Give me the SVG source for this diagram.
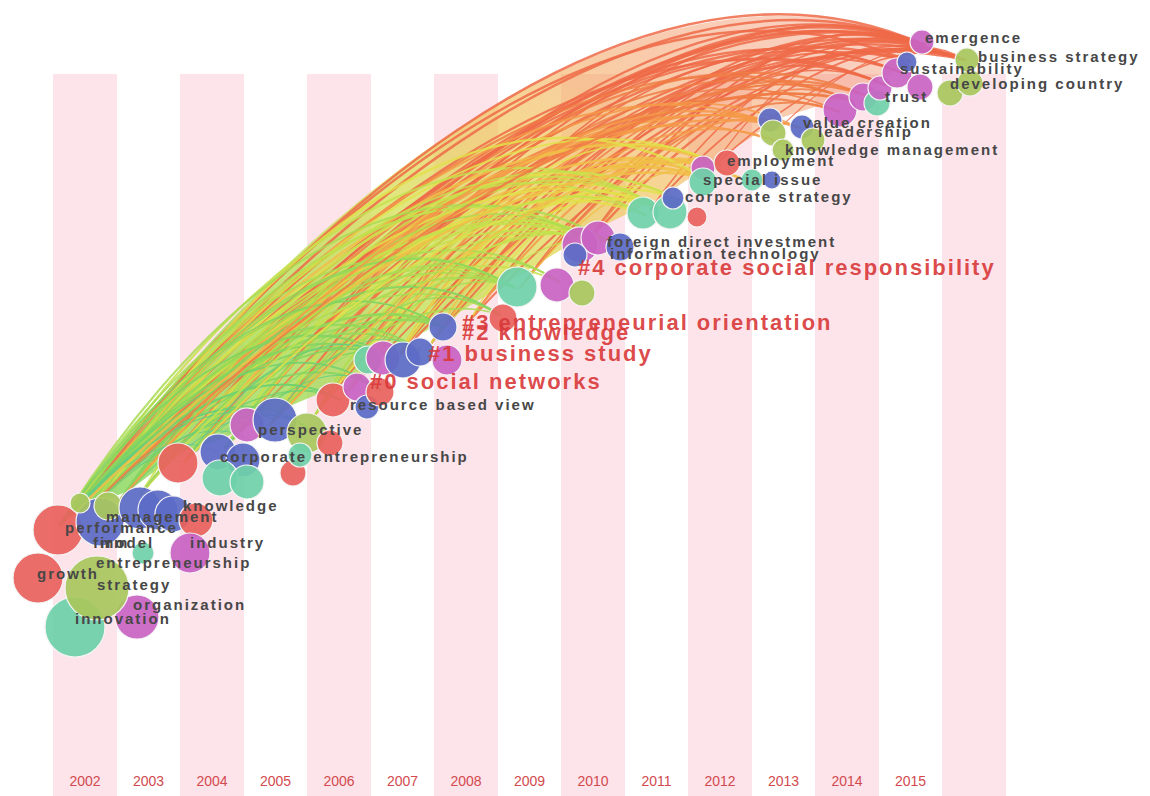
<svg xmlns="http://www.w3.org/2000/svg" xmlns:xlink="http://www.w3.org/1999/xlink" width="1150" height="796" viewBox="0 0 1150 796">
<style>
.stripe{fill:#fde3ea}
.yr{font-family:"Liberation Sans",Arial,sans-serif;font-size:14px;fill:#d24a4e;text-anchor:middle}
.lk{fill:none;stroke-opacity:.85;stroke-linecap:round}
.c15{stroke:#ee6a48}.c14{stroke:#f07c45}.c13{stroke:#f49a48}.c12{stroke:#f0c048}.c11{stroke:#e2e04a}
.c10{stroke:#c4e04e}.c9{stroke:#a8dc52}.c8{stroke:#92d85a}.c7{stroke:#80d462}.c6{stroke:#6fd070}.c5{stroke:#64cc84}.c4{stroke:#5cc896}
.L{stroke-width:.0026}.M{stroke-width:.0036}.S{stroke-width:.0055}
circle{stroke:#f4f4f4;stroke-width:1.2;fill-opacity:.93}
.r{fill:#e8625e}.b{fill:#5d6cc6}.t{fill:#6fd1a9}.p{fill:#c963c3}.o{fill:#a9c75e}
.lb{font-family:"Liberation Sans",Arial,sans-serif;font-size:15px;font-weight:bold;fill:#474747;letter-spacing:2px}
.cl{font-family:"Liberation Sans",Arial,sans-serif;font-size:22px;font-weight:bold;fill:#d93a3a;fill-opacity:.92;letter-spacing:2px}
</style>
<defs>
<path id="A" fill="none" d="M0,0C.3,-.126 .79,-.257 1,0"/>
<path id="B" fill="none" d="M0,0C.3,-.107 .79,-.218 1,0"/>
<path id="C" fill="none" d="M0,0C.3,-.088 .79,-.18 1,0"/>
<path id="D" fill="none" d="M0,0C.3,-.141 .79,-.288 1,0"/>
<path id="E" fill="none" d="M0,0C.3,-.17 .79,-.347 1,0"/>
<path id="F" fill="none" d="M0,0C.3,-.137 .79,-.276 1,0"/>
<linearGradient id="band" x1="0" y1="1" x2="1" y2="0">
<stop offset="0" stop-color="#86d862" stop-opacity=".85"/>
<stop offset=".3" stop-color="#a8dc58" stop-opacity=".8"/>
<stop offset=".5" stop-color="#d4e050" stop-opacity=".75"/>
<stop offset=".65" stop-color="#f0c04c" stop-opacity=".62"/>
<stop offset=".8" stop-color="#f28c48" stop-opacity=".45"/>
<stop offset="1" stop-color="#ee6a48" stop-opacity=".28"/>
</linearGradient>
</defs>
<rect width="1150" height="796" fill="#ffffff"/>
<g id="stripes">
<rect class="stripe" x="53" y="74" width="64" height="722"/>
<rect class="stripe" x="180" y="74" width="64" height="722"/>
<rect class="stripe" x="307" y="74" width="64" height="722"/>
<rect class="stripe" x="434" y="74" width="64" height="722"/>
<rect class="stripe" x="561" y="74" width="64" height="722"/>
<rect class="stripe" x="688" y="74" width="64" height="722"/>
<rect class="stripe" x="815" y="74" width="64" height="722"/>
<rect class="stripe" x="942" y="74" width="64" height="722"/>
</g>
<g id="years">
<text class="yr" x="85" y="786">2002</text>
<text class="yr" x="148.5" y="786">2003</text>
<text class="yr" x="212" y="786">2004</text>
<text class="yr" x="275.5" y="786">2005</text>
<text class="yr" x="339" y="786">2006</text>
<text class="yr" x="402.5" y="786">2007</text>
<text class="yr" x="466" y="786">2008</text>
<text class="yr" x="529.5" y="786">2009</text>
<text class="yr" x="593" y="786">2010</text>
<text class="yr" x="656.5" y="786">2011</text>
<text class="yr" x="720" y="786">2012</text>
<text class="yr" x="783.5" y="786">2013</text>
<text class="yr" x="847" y="786">2014</text>
<text class="yr" x="910.5" y="786">2015</text>
</g>
<g id="connectors">
<path d="M72,515C258,245 625,-85 925,45L900,68L850,96L780,118L720,158L660,198L590,232L520,275L450,318L400,345L340,385L280,410L220,440L180,452L130,490Z" fill="url(#band)"/>
<use href="#F" class="lk c15 L" transform="matrix(853,-470,470,853,72,515)"/>
<use href="#A" class="lk c15 L" transform="matrix(853,-470,470,853,72,515)"/>
<use href="#B" class="lk c15 L" transform="matrix(830,-460,460,830,95,505)"/>
<use href="#F" class="lk c15 L" transform="matrix(850,-463,463,850,60,525)"/>
<use href="#B" class="lk c15 L" transform="matrix(850,-463,463,850,60,525)"/>
<use href="#A" class="lk c15 L" transform="matrix(780,-428,428,780,120,500)"/>
<use href="#C" class="lk c15 L" transform="matrix(880,-452,452,880,85,512)"/>
<use href="#A" class="lk c15 L" transform="matrix(805,-440,440,805,140,495)"/>
<use href="#A" class="lk c15 L" transform="matrix(740,-417,417,740,185,462)"/>
<use href="#D" class="lk c15 L" transform="matrix(660,-363,363,660,225,448)"/>
<use href="#B" class="lk c15 L" transform="matrix(640,-363,363,640,270,425)"/>
<use href="#A" class="lk c15 L" transform="matrix(650,-355,355,650,315,415)"/>
<use href="#D" class="lk c15 L" transform="matrix(580,-350,350,580,345,395)"/>
<use href="#A" class="lk c15 M" transform="matrix(505,-288,288,505,395,360)"/>
<use href="#D" class="lk c15 M" transform="matrix(515,-290,290,515,430,345)"/>
<use href="#A" class="lk c15 M" transform="matrix(455,-275,275,455,470,320)"/>
<use href="#D" class="lk c15 M" transform="matrix(365,-203,203,365,520,288)"/>
<use href="#A" class="lk c15 L" transform="matrix(813,-430,430,813,72,515)"/>
<use href="#C" class="lk c15 L" transform="matrix(865,-480,480,865,60,525)"/>
<use href="#A" class="lk c15 L" transform="matrix(700,-403,403,700,225,448)"/>
<use href="#D" class="lk c15 L" transform="matrix(585,-343,343,585,315,415)"/>
<use href="#B" class="lk c15 M" transform="matrix(570,-300,300,570,395,360)"/>
<use href="#D" class="lk c15 S" transform="matrix(340,-200,200,340,585,245)"/>
<use href="#A" class="lk c15 S" transform="matrix(380,-185,185,380,585,245)"/>
<use href="#D" class="lk c15 S" transform="matrix(260,-148,148,260,650,210)"/>
<use href="#B" class="lk c15 M" transform="matrix(495,-260,260,495,470,320)"/>
<use href="#B" class="lk c15 L" transform="matrix(805,-455,455,805,120,500)"/>
<use href="#B" class="lk c15 L" transform="matrix(780,-402,402,780,185,462)"/>
<use href="#D" class="lk c15 L" transform="matrix(675,-370,370,675,270,425)"/>
<use href="#B" class="lk c15 L" transform="matrix(620,-335,335,620,345,395)"/>
<use href="#B" class="lk c15 M" transform="matrix(495,-300,300,495,430,345)"/>
<use href="#A" class="lk c15 M" transform="matrix(425,-233,233,425,520,288)"/>
<use href="#D" class="lk c15 M" transform="matrix(490,-275,275,490,395,360)"/>
<use href="#A" class="lk c15 S" transform="matrix(315,-150,150,315,650,210)"/>
<use href="#D" class="lk c15 S" transform="matrix(215,-125,125,215,710,170)"/>
<use href="#D" class="lk c15 S" transform="matrix(185,-68,68,185,780,128)"/>
<use href="#B" class="lk c15 S" transform="matrix(255,-110,110,255,710,170)"/>
<use href="#C" class="lk c15 L" transform="matrix(655,-380,380,655,270,425)"/>
<use href="#A" class="lk c14 L" transform="matrix(778,-415,415,778,72,515)"/>
<use href="#B" class="lk c14 L" transform="matrix(745,-393,393,745,95,505)"/>
<use href="#A" class="lk c14 L" transform="matrix(745,-405,405,745,120,500)"/>
<use href="#A" class="lk c14 L" transform="matrix(665,-362,362,665,185,462)"/>
<use href="#D" class="lk c14 L" transform="matrix(570,-313,313,570,270,425)"/>
<use href="#A" class="lk c14 M" transform="matrix(520,-300,300,520,345,395)"/>
<use href="#D" class="lk c14 M" transform="matrix(420,-245,245,420,430,345)"/>
<use href="#A" class="lk c14 S" transform="matrix(320,-176,176,320,520,288)"/>
<use href="#C" class="lk c14 L" transform="matrix(790,-425,425,790,60,525)"/>
<use href="#B" class="lk c14 L" transform="matrix(640,-353,353,640,225,448)"/>
<use href="#D" class="lk c14 S" transform="matrix(265,-145,145,265,585,245)"/>
<use href="#A" class="lk c13 L" transform="matrix(703,-390,390,703,72,515)"/>
<use href="#B" class="lk c13 L" transform="matrix(705,-377,377,705,95,505)"/>
<use href="#A" class="lk c13 L" transform="matrix(645,-350,350,645,140,495)"/>
<use href="#D" class="lk c13 L" transform="matrix(615,-334,334,615,185,462)"/>
<use href="#A" class="lk c13 M" transform="matrix(460,-290,290,460,315,415)"/>
<use href="#D" class="lk c13 M" transform="matrix(390,-215,215,390,395,360)"/>
<use href="#A" class="lk c13 S" transform="matrix(330,-192,192,330,470,320)"/>
<use href="#C" class="lk c13 L" transform="matrix(715,-400,400,715,60,525)"/>
<use href="#A" class="lk c13 M" transform="matrix(550,-323,323,550,225,448)"/>
<use href="#A" class="lk c12 M" transform="matrix(648,-350,350,648,72,515)"/>
<use href="#B" class="lk c12 M" transform="matrix(610,-327,327,610,95,505)"/>
<use href="#A" class="lk c12 M" transform="matrix(620,-322,322,620,120,500)"/>
<use href="#D" class="lk c12 M" transform="matrix(535,-297,297,535,185,462)"/>
<use href="#A" class="lk c12 M" transform="matrix(435,-247,247,435,270,425)"/>
<use href="#D" class="lk c12 M" transform="matrix(395,-217,217,395,345,395)"/>
<use href="#A" class="lk c12 S" transform="matrix(290,-180,180,290,430,345)"/>
<use href="#C" class="lk c12 M" transform="matrix(635,-347,347,635,85,512)"/>
<use href="#D" class="lk c12 S" transform="matrix(220,-110,110,220,520,288)"/>
<use href="#A" class="lk c11 M" transform="matrix(588,-307,307,588,72,515)"/>
<use href="#D" class="lk c11 M" transform="matrix(580,-307,307,580,95,505)"/>
<use href="#A" class="lk c11 M" transform="matrix(505,-280,280,505,140,495)"/>
<use href="#D" class="lk c11 M" transform="matrix(435,-240,240,435,225,448)"/>
<use href="#A" class="lk c11 S" transform="matrix(360,-217,217,360,315,415)"/>
<use href="#D" class="lk c11 S" transform="matrix(265,-152,152,265,395,360)"/>
<use href="#B" class="lk c11 M" transform="matrix(600,-317,317,600,60,525)"/>
<use href="#E" class="lk c12 S" transform="matrix(275,-167,167,275,430,345)"/>
<use href="#E" class="lk c12 S" transform="matrix(310,-182,182,310,395,360)"/>
<use href="#E" class="lk c11 M" transform="matrix(375,-230,230,375,345,395)"/>
<use href="#E" class="lk c11 S" transform="matrix(205,-122,122,205,470,320)"/>
<use href="#E" class="lk c11 S" transform="matrix(265,-152,152,265,395,360)"/>
<use href="#A" class="lk c10 M" transform="matrix(518,-275,275,518,72,515)"/>
<use href="#D" class="lk c10 M" transform="matrix(520,-260,260,520,95,505)"/>
<use href="#A" class="lk c10 M" transform="matrix(440,-218,218,440,120,500)"/>
<use href="#D" class="lk c10 M" transform="matrix(405,-222,222,405,185,462)"/>
<use href="#A" class="lk c10 S" transform="matrix(345,-180,180,345,270,425)"/>
<use href="#D" class="lk c10 S" transform="matrix(245,-155,155,245,345,395)"/>
<use href="#B" class="lk c10 M" transform="matrix(530,-285,285,530,60,525)"/>
<use href="#A" class="lk c10 S" transform="matrix(185,-100,100,185,430,345)"/>
<use href="#D" class="lk c11 L" transform="matrix(635,-347,347,635,85,512)"/>
<use href="#D" class="lk c10 L" transform="matrix(615,-327,327,615,60,525)"/>
<use href="#E" class="lk c11 M" transform="matrix(610,-327,327,610,95,505)"/>
<use href="#E" class="lk c10 M" transform="matrix(588,-307,307,588,72,515)"/>
<use href="#E" class="lk c10 M" transform="matrix(505,-280,280,505,140,495)"/>
<use href="#E" class="lk c9 M" transform="matrix(543,-270,270,543,72,515)"/>
<use href="#E" class="lk c9 M" transform="matrix(530,-285,285,530,60,525)"/>
<use href="#E" class="lk c10 M" transform="matrix(475,-254,254,475,185,462)"/>
<use href="#E" class="lk c11 M" transform="matrix(390,-217,217,390,270,425)"/>
<use href="#E" class="lk c10 M" transform="matrix(365,-208,208,365,225,448)"/>
<use href="#E" class="lk c10 M" transform="matrix(435,-240,240,435,225,448)"/>
<use href="#E" class="lk c10 S" transform="matrix(320,-185,185,320,270,425)"/>
<use href="#E" class="lk c10 S" transform="matrix(330,-200,200,330,315,415)"/>
<use href="#E" class="lk c10 S" transform="matrix(245,-155,155,245,345,395)"/>
<use href="#A" class="lk c9 M" transform="matrix(443,-227,227,443,72,515)"/>
<use href="#D" class="lk c9 M" transform="matrix(405,-190,190,405,95,505)"/>
<use href="#A" class="lk c9 S" transform="matrix(330,-174,174,330,185,462)"/>
<use href="#D" class="lk c9 S" transform="matrix(200,-127,127,200,315,415)"/>
<use href="#D" class="lk c9 M" transform="matrix(430,-224,224,430,85,512)"/>
<use href="#B" class="lk c9 S" transform="matrix(275,-133,133,275,225,448)"/>
<use href="#E" class="lk c9 M" transform="matrix(455,-237,237,455,60,525)"/>
<use href="#E" class="lk c9 M" transform="matrix(440,-218,218,440,120,500)"/>
<use href="#E" class="lk c10 M" transform="matrix(495,-265,265,495,95,505)"/>
<use href="#E" class="lk c9 M" transform="matrix(405,-222,222,405,185,462)"/>
<use href="#E" class="lk c9 S" transform="matrix(330,-174,174,330,185,462)"/>
<use href="#E" class="lk c9 S" transform="matrix(335,-166,166,335,225,448)"/>
<use href="#E" class="lk c9 S" transform="matrix(200,-127,127,200,315,415)"/>
<use href="#A" class="lk c8 M" transform="matrix(373,-187,187,373,72,515)"/>
<use href="#D" class="lk c8 S" transform="matrix(325,-155,155,325,95,505)"/>
<use href="#D" class="lk c8 S" transform="matrix(325,-172,172,325,120,500)"/>
<use href="#A" class="lk c8 S" transform="matrix(260,-134,134,260,185,462)"/>
<use href="#B" class="lk c8 M" transform="matrix(385,-197,197,385,60,525)"/>
<use href="#D" class="lk c8 S" transform="matrix(150,-75,75,150,270,425)"/>
<use href="#E" class="lk c8 M" transform="matrix(373,-187,187,373,72,515)"/>
<use href="#E" class="lk c8 S" transform="matrix(335,-162,162,335,85,512)"/>
<use href="#E" class="lk c8 M" transform="matrix(430,-224,224,430,85,512)"/>
<use href="#E" class="lk c8 M" transform="matrix(420,-217,217,420,95,505)"/>
<use href="#E" class="lk c8 S" transform="matrix(230,-110,110,230,270,425)"/>
<use href="#E" class="lk c8 S" transform="matrix(220,-120,120,220,225,448)"/>
<use href="#A" class="lk c7 S" transform="matrix(323,-155,155,323,72,515)"/>
<use href="#D" class="lk c7 S" transform="matrix(285,-115,115,285,95,505)"/>
<use href="#D" class="lk c7 S" transform="matrix(255,-135,135,255,140,495)"/>
<use href="#D" class="lk c7 S" transform="matrix(170,-88,88,170,225,448)"/>
<use href="#D" class="lk c7 S" transform="matrix(335,-165,165,335,60,525)"/>
<use href="#E" class="lk c7 S" transform="matrix(335,-165,165,335,60,525)"/>
<use href="#E" class="lk c7 M" transform="matrix(385,-197,197,385,60,525)"/>
<use href="#E" class="lk c7 S" transform="matrix(380,-185,185,380,120,500)"/>
<use href="#D" class="lk c6 S" transform="matrix(268,-115,115,268,72,515)"/>
<use href="#D" class="lk c6 S" transform="matrix(215,-75,75,215,95,505)"/>
<use href="#A" class="lk c6 S" transform="matrix(220,-100,100,220,120,500)"/>
<use href="#D" class="lk c6 S" transform="matrix(280,-125,125,280,60,525)"/>
<use href="#D" class="lk c6 S" transform="matrix(155,-62,62,155,185,462)"/>
<use href="#E" class="lk c6 S" transform="matrix(238,-85,85,238,72,515)"/>
<use href="#E" class="lk c6 S" transform="matrix(308,-125,125,308,72,515)"/>
<use href="#E" class="lk c5 S" transform="matrix(210,-102,102,210,185,462)"/>
<use href="#E" class="lk c5 S" transform="matrix(155,-58,58,155,225,448)"/>
<use href="#E" class="lk c5 S" transform="matrix(150,-75,75,150,270,425)"/>
<use href="#D" class="lk c5 S" transform="matrix(203,-95,95,203,72,515)"/>
<use href="#D" class="lk c5 S" transform="matrix(155,-65,65,155,95,505)"/>
<use href="#A" class="lk c5 S" transform="matrix(215,-105,105,215,60,525)"/>
<use href="#E" class="lk c4 S" transform="matrix(170,-65,65,170,140,495)"/>
<use href="#E" class="lk c4 S" transform="matrix(125,-32,32,125,185,462)"/>
<use href="#D" class="lk c4 S" transform="matrix(143,-63,63,143,72,515)"/>
<use href="#D" class="lk c4 S" transform="matrix(85,-43,43,85,95,505)"/>
<use href="#B" class="lk c13 L" transform="matrix(655,-375,375,655,120,500)"/>
<use href="#C" class="lk c12 M" transform="matrix(633,-337,337,633,72,515)"/>
<use href="#B" class="lk c11 M" transform="matrix(475,-254,254,475,185,462)"/>
<use href="#C" class="lk c14 L" transform="matrix(765,-412,412,765,85,512)"/>
<use href="#C" class="lk c12 M" transform="matrix(450,-260,260,450,270,425)"/>
<use href="#B" class="lk c10 M" transform="matrix(450,-255,255,450,140,495)"/>
</g>
<g id="nodes">
<g id="n1"><circle class="t" cx="75" cy="627" r="30"/></g>
<g id="n2"><circle class="p" cx="137" cy="617" r="22"/></g>
<g id="n3"><circle class="o" cx="97" cy="588" r="32"/></g>
<g id="n4"><circle class="r" cx="38" cy="578" r="25"/></g>
<g id="n5"><circle class="r" cx="58" cy="530" r="25"/></g>
<g id="n6"><circle class="b" cx="100" cy="522" r="24"/></g>
<g id="n7"><circle class="o" cx="108" cy="506" r="14"/></g>
<g id="n8"><circle class="b" cx="140" cy="508" r="21"/></g>
<g id="n9"><circle class="b" cx="158" cy="510" r="20"/></g>
<g id="n10"><circle class="b" cx="173" cy="514" r="18"/></g>
<g id="n11"><circle class="r" cx="196" cy="520" r="17"/></g>
<g id="n12"><circle class="p" cx="190" cy="553" r="20"/></g>
<g id="n13"><circle class="t" cx="143" cy="553" r="11"/></g>
<g id="n14"><circle class="o" cx="80" cy="503" r="10"/></g>
<g id="n15"><circle class="r" cx="178" cy="463" r="20"/></g>
<g id="n16"><circle class="b" cx="218" cy="452" r="18"/></g>
<g id="n17"><circle class="b" cx="243" cy="460" r="17"/></g>
<g id="n18"><circle class="t" cx="220" cy="478" r="18"/></g>
<g id="n19"><circle class="t" cx="247" cy="482" r="17"/></g>
<g id="n20"><circle class="r" cx="293" cy="473" r="13"/></g>
<g id="n21"><circle class="p" cx="247" cy="425" r="17"/></g>
<g id="n22"><circle class="b" cx="275" cy="420" r="22"/></g>
<g id="n23"><circle class="o" cx="307" cy="433" r="20"/></g>
<g id="n24"><circle class="t" cx="300" cy="455" r="12"/></g>
<g id="n25"><circle class="r" cx="330" cy="443" r="13"/></g>
<g id="n26"><circle class="r" cx="333" cy="400" r="17"/></g>
<g id="n27"><circle class="p" cx="357" cy="387" r="14"/></g>
<g id="n28"><circle class="b" cx="367" cy="407" r="12"/></g>
<g id="n29"><circle class="r" cx="380" cy="392" r="14"/></g>
<g id="n30"><circle class="t" cx="368" cy="360" r="14"/></g>
<g id="n31"><circle class="p" cx="383" cy="358" r="17"/></g>
<g id="n32"><circle class="b" cx="403" cy="360" r="18"/></g>
<g id="n33"><circle class="b" cx="420" cy="352" r="14"/></g>
<g id="n34"><circle class="p" cx="447" cy="360" r="15"/></g>
<g id="n35"><circle class="b" cx="443" cy="327" r="14"/></g>
<g id="n36"><circle class="r" cx="503" cy="318" r="14"/></g>
<g id="n37"><circle class="t" cx="517" cy="287" r="20"/></g>
<g id="n38"><circle class="p" cx="557" cy="285" r="17"/></g>
<g id="n39"><circle class="o" cx="582" cy="293" r="13"/></g>
<g id="n40"><circle class="p" cx="580" cy="245" r="18"/></g>
<g id="n41"><circle class="p" cx="598" cy="238" r="17"/></g>
<g id="n42"><circle class="b" cx="575" cy="255" r="12"/></g>
<g id="n43"><circle class="b" cx="620" cy="247" r="14"/></g>
<g id="n44"><circle class="t" cx="643" cy="213" r="16"/></g>
<g id="n45"><circle class="t" cx="670" cy="212" r="17"/></g>
<g id="n46"><circle class="r" cx="697" cy="217" r="10"/></g>
<g id="n47"><circle class="b" cx="673" cy="198" r="11"/></g>
<g id="n48"><circle class="p" cx="703" cy="168" r="12"/></g>
<g id="n49"><circle class="t" cx="703" cy="182" r="14"/></g>
<g id="n50"><circle class="r" cx="727" cy="163" r="13"/></g>
<g id="n51"><circle class="t" cx="752" cy="180" r="11"/></g>
<g id="n52"><circle class="b" cx="772" cy="180" r="9"/></g>
<g id="n53"><circle class="b" cx="770" cy="120" r="12"/></g>
<g id="n54"><circle class="o" cx="773" cy="133" r="13"/></g>
<g id="n55"><circle class="b" cx="802" cy="127" r="12"/></g>
<g id="n56"><circle class="o" cx="813" cy="140" r="12"/></g>
<g id="n57"><circle class="o" cx="783" cy="150" r="11"/></g>
<g id="n58"><circle class="p" cx="840" cy="110" r="17"/></g>
<g id="n59"><circle class="p" cx="863" cy="97" r="14"/></g>
<g id="n60"><circle class="t" cx="877" cy="103" r="13"/></g>
<g id="n61"><circle class="p" cx="880" cy="88" r="12"/></g>
<g id="n62"><circle class="p" cx="897" cy="73" r="15"/></g>
<g id="n63"><circle class="b" cx="907" cy="62" r="10"/></g>
<g id="n64"><circle class="p" cx="920" cy="87" r="13"/></g>
<g id="n65"><circle class="p" cx="922" cy="42" r="12"/></g>
<g id="n66"><circle class="o" cx="950" cy="93" r="13"/></g>
<g id="n67"><circle class="o" cx="970" cy="83" r="13"/></g>
<g id="n68"><circle class="o" cx="967" cy="60" r="12"/></g>
</g>
<g id="labels">
<text id="l-emergence" class="lb" x="925" y="43">emergence</text>
<text id="l-business-strategy" class="lb" x="978" y="62">business strategy</text>
<text id="l-sustainability" class="lb" x="900" y="74">sustainability</text>
<text id="l-developing-country" class="lb" x="950" y="89">developing country</text>
<text id="l-trust" class="lb" x="885" y="102">trust</text>
<text id="l-value-creation" class="lb" x="803" y="128">value creation</text>
<text id="l-leadership" class="lb" x="818" y="137">leadership</text>
<text id="l-knowledge-management" class="lb" x="785" y="155">knowledge management</text>
<text id="l-employment" class="lb" x="727" y="166">employment</text>
<text id="l-special-issue" class="lb" x="703" y="185">special issue</text>
<text id="l-corporate-strategy" class="lb" x="685" y="202">corporate strategy</text>
<text id="l-fdi" class="lb" x="607" y="247">foreign direct investment</text>
<text id="l-it" class="lb" x="610" y="259">information technology</text>
<text id="l-rbv" class="lb" x="350" y="410">resource based view</text>
<text id="l-perspective" class="lb" x="258" y="435">perspective</text>
<text id="l-ce" class="lb" x="220" y="462">corporate entrepreneurship</text>
<text id="l-knowledge" class="lb" x="183" y="511">knowledge</text>
<text id="l-management" class="lb" x="106" y="522">management</text>
<text id="l-performance" class="lb" x="65" y="533">performance</text>
<text id="l-firm" class="lb" x="93" y="548">firm</text>
<text id="l-model" class="lb" x="100" y="548">model</text>
<text id="l-industry" class="lb" x="190" y="548">industry</text>
<text id="l-entrepreneurship" class="lb" x="96" y="568">entrepreneurship</text>
<text id="l-growth" class="lb" x="37" y="579">growth</text>
<text id="l-strategy" class="lb" x="97" y="590">strategy</text>
<text id="l-organization" class="lb" x="133" y="610">organization</text>
<text id="l-innovation" class="lb" x="75" y="624">innovation</text>
<text id="c3" class="cl" x="462" y="330">#3 entrepreneurial orientation</text>
<text id="c2" class="cl" x="462" y="340">#2 knowledge</text>
<text id="c1" class="cl" x="428" y="361">#1 business study</text>
<text id="c0" class="cl" x="370" y="389">#0 social networks</text>
<text id="c4" class="cl" x="578" y="275">#4 corporate social responsibility</text>
</g>
</svg>
